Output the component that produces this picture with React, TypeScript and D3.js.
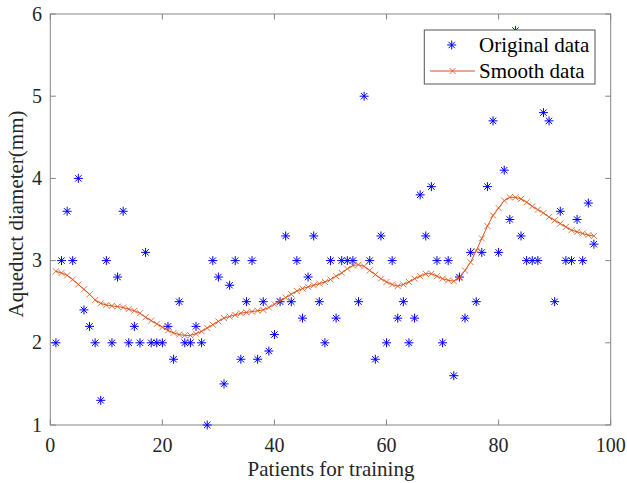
import React from "react";
import * as d3 from "d3";

// original measurements, patient index 1..97
const originalData = [
  2, 3, 3.6, 3, 4, 2.4, 2.2, 2, 1.3, 3,
  2, 2.8, 3.6, 2, 2.2, 2, 3.1, 2, 2, 2,
  2.2, 1.8, 2.5, 2, 2, 2.2, 2, 1, 3, 2.8,
  1.5, 2.7, 3, 1.8, 2.5, 3, 1.8, 2.5, 1.9, 2.1,
  2.5, 3.3, 2.5, 3, 2.3, 2.8, 3.3, 2.5, 2, 3,
  2.3, 3, 3, 3, 2.5, 5, 3, 1.8, 3.3, 2,
  3, 2.3, 2.5, 2, 2.3, 3.8, 3.3, 3.9, 3, 2,
  3, 1.6, 2.8, 2.3, 3.1, 2.5, 3.1, 3.9, 4.7, 3.1,
  4.1, 3.5, 5.8, 3.3, 3, 3, 3, 4.8, 4.7, 2.5,
  3.6, 3, 3, 3.5, 3, 3.7, 3.2,
];

// smoothed curve
const smoothData = [
  2.87, 2.85, 2.82, 2.77, 2.71, 2.65, 2.59, 2.52, 2.48, 2.46,
  2.45, 2.44, 2.43, 2.41, 2.39, 2.36, 2.31, 2.27, 2.23, 2.19,
  2.15, 2.12, 2.1, 2.09, 2.09, 2.11, 2.14, 2.18, 2.22, 2.26,
  2.3, 2.32, 2.34, 2.36, 2.37, 2.38, 2.39, 2.4, 2.43, 2.47,
  2.51, 2.55, 2.59, 2.63, 2.66, 2.68, 2.7, 2.72, 2.74, 2.77,
  2.81, 2.85, 2.9, 2.94, 2.95, 2.93, 2.88, 2.83, 2.78, 2.74,
  2.71, 2.69, 2.71, 2.74, 2.78, 2.81, 2.84, 2.84, 2.81, 2.78,
  2.76, 2.75, 2.79, 2.88, 2.98, 3.12, 3.27, 3.42, 3.55, 3.64,
  3.73, 3.77, 3.77, 3.75, 3.71, 3.66, 3.62, 3.58, 3.53, 3.49,
  3.45, 3.41, 3.37, 3.35, 3.33, 3.31, 3.3,
];

const xTicks = [0, 20, 40, 60, 80, 100];
const yTicks = [1, 2, 3, 4, 5, 6];
const legendLabels = ["Original data", "Smooth data"];

const FONT = "'Liberation Serif', 'Times New Roman', serif";
const BLUE = "#0000ff";
const ORANGE = "#d95319";
const AXIS = "#858585";

// asterisk marker
const Star = ({ x, y, r = 4.5 }: { x: number; y: number; r?: number }) => {
  const d = r * 0.7071;
  return (
    <g stroke={BLUE} strokeWidth={1}>
      <line x1={x - r} y1={y} x2={x + r} y2={y} />
      <line x1={x} y1={y - r} x2={x} y2={y + r} />
      <line x1={x - d} y1={y - d} x2={x + d} y2={y + d} />
      <line x1={x - d} y1={y + d} x2={x + d} y2={y - d} />
    </g>
  );
};

const Cross = ({ x, y, r = 3 }: { x: number; y: number; r?: number }) => (
  <g stroke={ORANGE} strokeWidth={0.8}>
    <line x1={x - r} y1={y - r} x2={x + r} y2={y + r} />
    <line x1={x - r} y1={y + r} x2={x + r} y2={y - r} />
  </g>
);

export default function App() {
  const left = 50.3, right = 610.7, top = 14, bottom = 425;
  const x = d3.scaleLinear().domain([0, 100]).range([left, right]);
  const y = d3.scaleLinear().domain([1, 6]).range([bottom, top]);

  const smoothLine = d3
    .line<number>()
    .x((_, i) => x(i + 1))
    .y((v) => y(v));

  const tickLen = 5.5;

  return (
    <svg
      width={627}
      height={483}
      style={{ position: "absolute", left: 0, top: 0, background: "#fff" }}
      fontFamily={FONT}
    >
      {/* box */}
      <rect x={left} y={top} width={right - left} height={bottom - top} fill="none" stroke={AXIS} strokeWidth={1} />

      {/* x ticks, bottom and top, inward */}
      {xTicks.map((t) => (
        <g key={"x" + t}>
          <line x1={x(t)} x2={x(t)} y1={bottom} y2={bottom - tickLen} stroke={AXIS} />
          <line x1={x(t)} x2={x(t)} y1={top} y2={top + tickLen} stroke={AXIS} />
          <text x={x(t)} y={452} textAnchor="middle" fontSize={20} fill="#262626">
            {t}
          </text>
        </g>
      ))}

      {/* y ticks */}
      {yTicks.map((t) => (
        <g key={"y" + t}>
          <line x1={left} x2={left + tickLen} y1={y(t)} y2={y(t)} stroke={AXIS} />
          <line x1={right} x2={right - tickLen} y1={y(t)} y2={y(t)} stroke={AXIS} />
          <text x={42} y={y(t) + 6.5} textAnchor="end" fontSize={20} fill="#262626">
            {t}
          </text>
        </g>
      ))}

      {/* axis labels */}
      <text x={331} y={476} textAnchor="middle" fontSize={21} fill="#262626">
        Patients for training
      </text>
      <text
        transform={`translate(23, 214) rotate(-90)`}
        textAnchor="middle"
        fontSize={21}
        fill="#262626"
      >
        Aqueduct diameter(mm)
      </text>

      {/* original data */}
      {originalData.map((v, i) => (
        <Star key={"o" + i} x={x(i + 1)} y={y(v)} />
      ))}

      {/* smooth data */}
      <path d={smoothLine(smoothData) ?? ""} fill="none" stroke={ORANGE} strokeWidth={1} />
      {smoothData.map((v, i) => (
        <Cross key={"s" + i} x={x(i + 1)} y={y(v)} />
      ))}

      {/* legend */}
      <g>
        <rect x={424.3} y={30} width={170.7} height={54} fill="#fff" stroke="#555" strokeWidth={1} />
        <Star x={451.7} y={45} />
        <line x1={430} x2={475} y1={71} y2={71} stroke={ORANGE} strokeWidth={1} />
        <Cross x={452.5} y={71} />
        <text x={479} y={52} fontSize={21} fill="#000">
          {legendLabels[0]}
        </text>
        <text x={479} y={78} fontSize={21} fill="#000">
          {legendLabels[1]}
        </text>
      </g>
    </svg>
  );
}
